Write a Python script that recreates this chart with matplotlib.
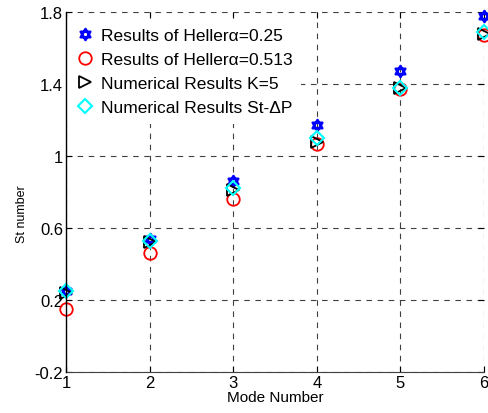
import numpy as np
import matplotlib
matplotlib.use("Agg")
from matplotlib import pyplot as plt
from matplotlib.path import Path

plt.rcParams['font.family'] = ['Liberation Sans', 'DejaVu Sans']

# St number for each mode
modes = [1, 2, 3, 4, 5, 6]
heller_025 = [0.25, 0.54, 0.86, 1.17, 1.47, 1.78]
heller_0513 = [0.15, 0.46, 0.76, 1.065, 1.37, 1.67]
num_k5 = [0.24, 0.52, 0.81, 1.08, 1.38, 1.68]
num_stdp = [0.25, 0.53, 0.82, 1.10, 1.38, 1.69]

yticks = [-0.2, 0.2, 0.6, 1.0, 1.4, 1.8]
ytick_labels = ["-0.2", "0.2", "0.6", "1", "1.4", "1.8"]

# six-pointed star marker made of two triangles
ang_up = np.deg2rad([90, 210, 330, 90])
ang_dn = np.deg2rad([270, 30, 150, 270])
verts = list(zip(np.cos(ang_up), np.sin(ang_up))) + list(zip(np.cos(ang_dn), np.sin(ang_dn)))
codes = [Path.MOVETO, Path.LINETO, Path.LINETO, Path.CLOSEPOLY] * 2
hexagram = Path(verts, codes)

fig = plt.figure(figsize=(4.88, 4.14), dpi=100)
ax = fig.add_axes([66/488, 41/414, 418/488, 360/414])

ax.plot(modes, heller_025, linestyle='none', marker=hexagram, ms=8, clip_on=False,
        mfc='none', mec='blue', mew=1.8, label="Results of Heller\u03b1=0.25")
ax.plot(modes, heller_0513, linestyle='none', marker='o', ms=9, clip_on=False,
        mfc='none', mec='red', mew=1.3, label="Results of Heller\u03b1=0.513")
ax.plot(modes, num_k5, linestyle='none', marker='>', ms=8, clip_on=False,
        mfc='none', mec='black', mew=1.3, label="Numerical Results K=5")
ax.plot(modes, num_stdp, linestyle='none', marker='D', ms=7, clip_on=False,
        mfc='none', mec='cyan', mew=1.5, label="Numerical Results St-\u0394P")

ax.set_xlim(1, 6)
ax.set_ylim(-0.2, 1.8)
ax.set_xticks(modes)
ax.set_yticks(yticks)
ax.set_yticklabels(ytick_labels)
ax.tick_params(direction='in', length=4, labelsize=12, top=True, right=True, pad=2)
ax.grid(True, linestyle=(0, (5, 5)), color='#404040', linewidth=0.8)

for side in ['top', 'right']:
    ax.spines[side].set_visible(False)
ax.spines['left'].set_linewidth(1.0)
ax.spines['left'].set_zorder(6)
ax.spines['bottom'].set_color('#404040')

ax.set_xlabel("Mode Number", fontsize=11, labelpad=0)
ax.set_ylabel("St number", fontsize=9)
ax.yaxis.set_label_coords(-0.09, 0.44)

# white legend box without a border, hiding the grid behind it
leg = ax.legend(loc='upper left', bbox_to_anchor=(0, 0.979), fontsize=12.5,
                frameon=True, facecolor='white', edgecolor='none', framealpha=1,
                fancybox=False, borderpad=0.5, borderaxespad=0,
                handlelength=1.2, handletextpad=0.3, labelspacing=0.5)

fig.savefig("out.png", dpi=100)
